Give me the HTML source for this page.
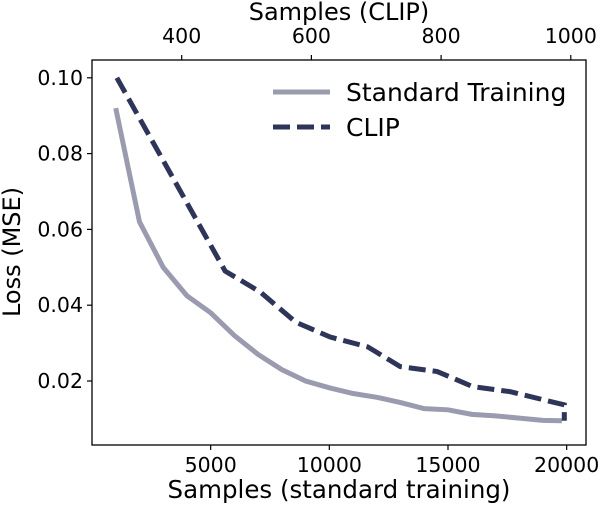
<!DOCTYPE html>
<html><head><meta charset="utf-8"><style>
body{margin:0;background:#fff;}
text{font-family:"DejaVu Sans","Liberation Sans",sans-serif;fill:#000;}
</style></head><body>
<svg id="chart" width="604" height="510">
<rect x="92" y="60" width="494" height="385" fill="#fff" stroke="#000" stroke-width="1.3"/>
<g id="axes"></g>
<g id="series"></g>
<text x="339" y="20" font-size="24" text-anchor="middle">Samples (CLIP)</text>
<text x="339" y="498" font-size="24.5" text-anchor="middle">Samples (standard training)</text>
<text transform="translate(20,252) rotate(-90)" font-size="24" text-anchor="middle">Loss (MSE)</text>
<g>
<line x1="273" y1="92" x2="330" y2="92" stroke="#9b9bb0" stroke-width="5"/>
<text x="346" y="101" font-size="25">Standard Training</text>
<line x1="273" y1="127" x2="330" y2="127" stroke="#2e3558" stroke-width="5" stroke-dasharray="17,7"/>
<text x="346" y="136" font-size="25">CLIP</text>
</g>
</svg>
<script>
const stdX=[1000,2000,3000,4000,5000,6000,7000,8000,9000,10000,11000,12000,13000,14000,15000,16000,17000,18000,19000,19800];
const stdY=[0.092,0.062,0.050,0.0425,0.038,0.032,0.027,0.023,0.020,0.0182,0.0167,0.0157,0.0143,0.0127,0.0124,0.0112,0.0108,0.0102,0.0096,0.0095];
const clipX=[300,467,521,576,629,687,737,794,849,906,990,990];
const clipY=[0.100,0.049,0.0435,0.0355,0.0316,0.029,0.0238,0.0225,0.0185,0.0172,0.0137,0.0095];
const bottomTicks=[5000,10000,15000,20000];
const topTicks=[400,600,800,1000];
const yTicks=[0.02,0.04,0.06,0.08,0.10];
const xb=v=>92+v*0.023733;
const xt=v=>181.7+(v-400)*0.6485;
const y=v=>456.8-v*3790;
const NS="http://www.w3.org/2000/svg";
const axes=document.getElementById('axes'),series=document.getElementById('series');
function mk(tag,attrs,parent){const e=document.createElementNS(NS,tag);for(const k in attrs)e.setAttribute(k,attrs[k]);parent.appendChild(e);return e;}
bottomTicks.forEach(t=>{
 const l=mk('line',{x1:xb(t),x2:xb(t),y1:445,y2:450,stroke:'#000','stroke-width':1.2},axes);
 
 
 const s=mk('text',{x:xb(t),y:472,'font-size':20.5,'text-anchor':'middle'},axes);s.textContent=t;
 
 
});
topTicks.forEach(t=>{
 const l=mk('line',{x1:xt(t),x2:xt(t),y1:55,y2:60,stroke:'#000','stroke-width':1.2},axes);
 
 
 const s=mk('text',{x:xt(t),y:43,'font-size':20.5,'text-anchor':'middle'},axes);s.textContent=t;
 
 
});
yTicks.forEach(t=>{
 const l=mk('line',{x1:87,x2:92,y1:y(t),y2:y(t),stroke:'#000','stroke-width':1.2},axes);
 
 
 const s=mk('text',{x:83,y:y(t)+7,'font-size':20.5,'text-anchor':'end'},axes);s.textContent=t.toFixed(2);
 
 
});
const p1=mk('polyline',{points:stdX.map((v,i)=>xb(v)+','+y(stdY[i])).join(' '),fill:'none',stroke:'#9b9bb0','stroke-width':5},series);


const p2=mk('polyline',{points:clipX.map((v,i)=>xt(v)+','+y(clipY[i])).join(' '),fill:'none',stroke:'#2e3558','stroke-width':5,'stroke-dasharray':'17,7'},series);


</script>
</body></html>
